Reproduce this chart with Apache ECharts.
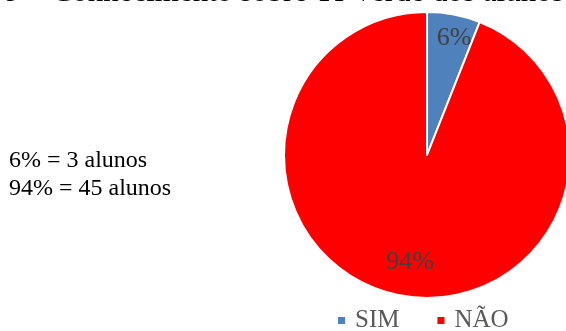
<!DOCTYPE html>
<html>
<head>
<meta charset="utf-8">
<script src="https://cdn.jsdelivr.net/npm/echarts@6/dist/echarts.min.js"></script>
<style>
html,body{margin:0;padding:0;background:#fff;}
#chart{width:566px;height:331px;}
</style>
</head>
<body>
<div id="chart"></div>
<script>
const categories = ['SIM', 'NÃO'];
const percents = [6, 94];
const colors = ['#4F81BD', '#FF0000'];
const noteLines = ['6% = 3 alunos', '94% = 45 alunos'];
const titleText = '9 – Conhecimento sobre TI Verde dos alunos';

const labelOffsets = [[13, -44], [-3, 34]];

const chart = echarts.init(document.getElementById('chart'), null, {renderer: 'canvas'});
chart.setOption({
  animation: false,
  title: [
    {
      text: titleText,
      left: 0,
      top: -28,
      textStyle: {fontFamily: 'Liberation Serif', fontSize: 31, fontWeight: 'normal', color: '#000'}
    },
    {
      text: noteLines.join('\n'),
      left: 4,
      top: 142,
      textStyle: {fontFamily: 'Liberation Serif', fontSize: 24, fontWeight: 'normal', color: '#000', lineHeight: 28}
    }
  ],
  legend: {
    data: categories,
    left: 331,
    bottom: -7,
    itemWidth: 9,
    itemHeight: 9,
    itemGap: 36,
    icon: 'rect',
    textStyle: {fontFamily: 'Liberation Serif', fontSize: 25, color: '#595959', padding: [0, 0, 0, 4]}
  },
  series: [{
    type: 'pie',
    center: [427, 155],
    radius: [0, 143],
    startAngle: 90,
    clockwise: true,
    itemStyle: {borderColor: '#fff', borderWidth: 2},
    label: {
      show: true,
      position: 'inside',
      formatter: '{c}%',
      fontFamily: 'Liberation Serif',
      fontSize: 26,
      color: '#404040'
    },
    labelLine: {show: false},
    emphasis: {disabled: true},
    data: categories.map((c, i) => ({
      name: c,
      value: percents[i],
      itemStyle: {color: colors[i]},
      label: {offset: labelOffsets[i]}
    }))
  }]
});
</script>
</body>
</html>
